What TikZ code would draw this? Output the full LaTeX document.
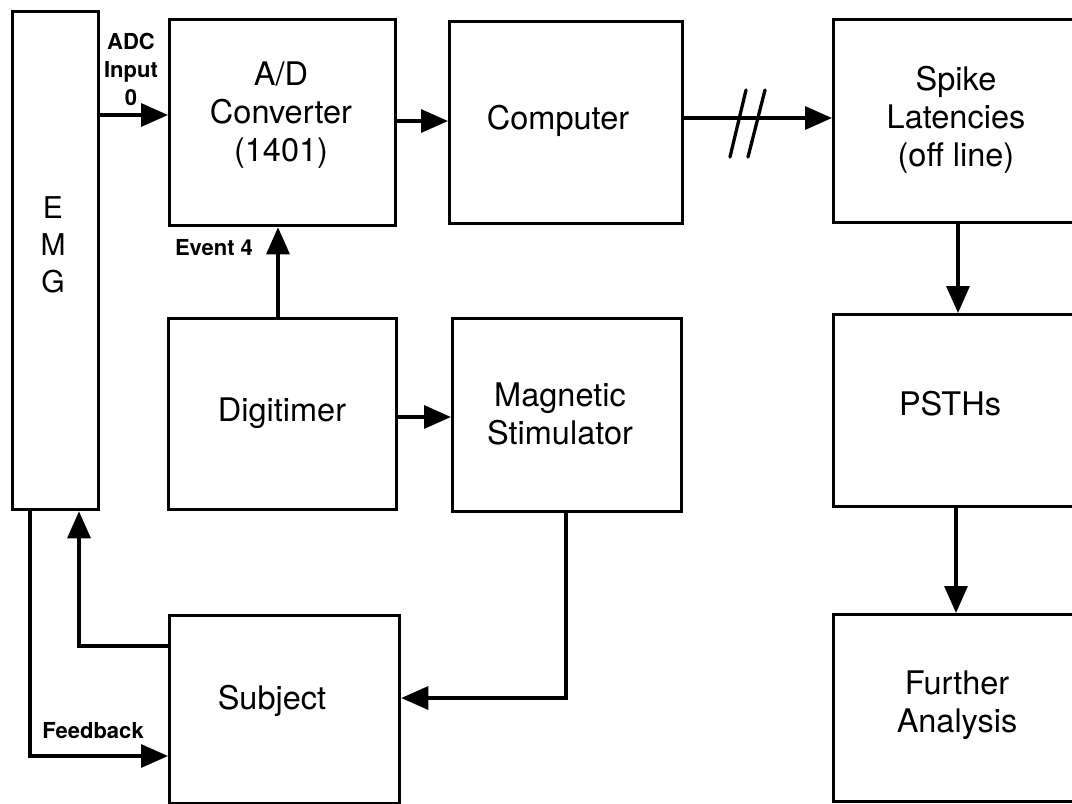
\documentclass[tikz,border=0pt]{standalone}
\usepackage{fontspec}
\setmainfont{TeX Gyre Heros}
\usetikzlibrary{arrows.meta}
\begin{document}
\begin{tikzpicture}[x=1pt,y=-1pt,
  box/.style={draw,line width=3.3pt,rectangle,inner sep=0pt,anchor=north west},
  big/.style={font=\fontsize{32.5}{38}\selectfont,align=center,inner sep=0pt},
  emgfont/.style={font=\fontsize{30}{37}\selectfont,align=center,inner sep=0pt},
  small/.style={font=\bfseries\fontsize{22}{28}\selectfont,align=center,inner sep=0pt},
  conn/.style={line width=3.3pt},
  arr/.style={conn,-{Triangle[length=27pt,width=23pt]}}]
\useasboundingbox (0,0) rectangle (1072,804);
\clip (0,0) rectangle (1072,804);
\fill[white] (0,0) rectangle (1072,804);

% boxes
\node[box,minimum width=86pt,minimum height=498pt] (emg) at (11,10) {};
\node[box,minimum width=226pt,minimum height=206pt] (ad) at (168,18) {};
\node[box,minimum width=233pt,minimum height=202pt] (comp) at (448,20) {};
\node[box,minimum width=253pt,minimum height=203pt] (spike) at (832,18) {};
\node[box,minimum width=228pt,minimum height=191pt] (digi) at (167,317) {};
\node[box,minimum width=229pt,minimum height=193pt] (mag) at (451,317) {};
\node[box,minimum width=253pt,minimum height=192pt] (psth) at (832,313) {};
\node[box,minimum width=230pt,minimum height=188pt] (subj) at (168,614) {};
\node[box,minimum width=253pt,minimum height=187pt] (further) at (832,613) {};

% texts
\node[emgfont] (emgt) at (53,245) {E\\M\\G};
\node[big] (adt) at (281,115) {A/D\\Converter\\(1401)};
\node[big] (compt) at (558,121) {Computer};
\node[big] (spiket) at (956,120) {Spike\\Latencies\\(off line)};
\node[big] (digit) at (282,413) {Digitimer};
\node[big] (magt) at (560,414) {Magnetic\\Stimulator};
\node[big] (pstht) at (950,404) {PSTHs};
\node[big] (subjt) at (272,701) {Subject};
\node[big] (furthert) at (957,705) {Further\\Analysis};
\node[small] (adcl) at (131,69) {ADC\\Input\\0};
\node[small] (evl) at (214,248) {Event 4};
\node[small] (fbl) at (93,731) {Feedback};

% connectors
\draw[arr] (emg.east |- 0,115) -- (ad.west |- 0,115);
\draw[arr] (ad.east |- 0,121) -- (comp.west |- 0,121);
\draw[arr] (comp.east |- 0,118) -- (spike.west |- 0,118);
\draw[conn,line cap=round] (746,90) -- (730,157);
\draw[conn,line cap=round] (765,90) -- (748,157);
\draw[arr] (spike.south -| 958,0) -- (psth.north -| 958,0);
\draw[arr] (psth.south -| 956,0) -- (further.north -| 956,0);
\draw[arr] (digi.north -| 278,0) -- (ad.south -| 278,0);
\draw[arr] (digi.east |- 0,417) -- (mag.west |- 0,417);
\draw[arr] (mag.south -| 566,0) |- (subj.east |- 0,698);
\draw[arr] (subj.west |- 0,646) -| (emg.south -| 79,0);
\draw[arr] (emg.south -| 30,0) |- (subj.west |- 0,756);
\end{tikzpicture}
\end{document}
